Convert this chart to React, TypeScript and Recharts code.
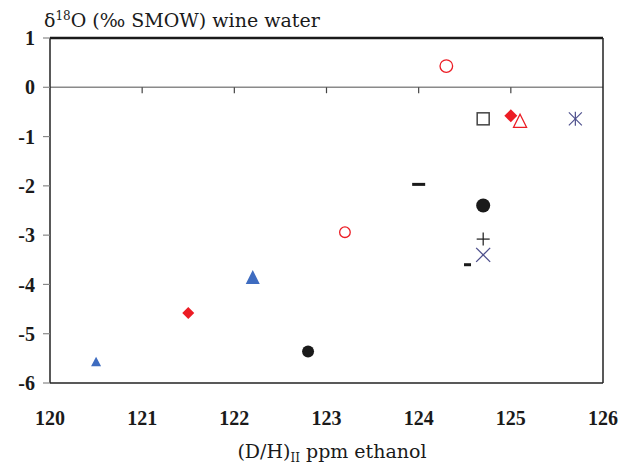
import { ReferenceLine, Scatter, ScatterChart, XAxis, YAxis } from 'recharts'

const markerKinds = [
  'smallTriangle', 'diamond', 'triangle', 'dot', 'ring', 'dash', 'bigRing', 'square',
  'bigDiamond', 'openTriangle', 'asterisk', 'bigDot', 'plus', 'cross', 'shortDash'
]
const dhEthanol = [120.5, 121.5, 122.2, 122.8, 123.2, 124.0, 124.3, 124.7, 125.0, 125.1, 125.7, 124.7, 124.7, 124.7, 124.53]
const d18OWater = [-5.57, -4.58, -3.85, -5.36, -2.94, -1.97, 0.43, -0.64, -0.58, -0.68, -0.64, -2.4, -3.08, -3.4, -3.6]

const xTicks = [120, 121, 122, 123, 124, 125, 126]
const yTicks = [-6, -5, -4, -3, -2, -1, 0, 1]
const zeroLineTicks = [121, 122, 123, 124, 125]

const RED = '#ec1c24'
const BLUE = '#3e6cc0'
const SLATE = '#4d4f8c'
const FONT = 'Liberation Serif, DejaVu Serif, serif'
const TITLE_FONT = 'DejaVu Serif, Liberation Serif, serif'

const points = markerKinds.map((kind, i) => ({ kind, x: dhEthanol[i], y: d18OWater[i] }))

function Marker(props: any) {
  const { cx, cy, payload } = props
  if (cx == null || cy == null) return null
  switch (payload.kind) {
    case 'smallTriangle':
      return <polygon points={`${cx},${cy - 5} ${cx + 5},${cy + 4.5} ${cx - 5},${cy + 4.5}`} fill={BLUE} />
    case 'triangle':
      return <polygon points={`${cx},${cy - 7} ${cx + 7},${cy + 7} ${cx - 7},${cy + 7}`} fill={BLUE} />
    case 'diamond':
      return <polygon points={`${cx},${cy - 6} ${cx + 6},${cy} ${cx},${cy + 6} ${cx - 6},${cy}`} fill={RED} />
    case 'bigDiamond':
      return <polygon points={`${cx},${cy - 6.5} ${cx + 6.5},${cy} ${cx},${cy + 6.5} ${cx - 6.5},${cy}`} fill={RED} />
    case 'dot':
      return <circle cx={cx} cy={cy} r={6} fill="#1a1a1a" />
    case 'bigDot':
      return <circle cx={cx} cy={cy} r={7} fill="#1a1a1a" />
    case 'ring':
      return <circle cx={cx} cy={cy} r={5.3} fill="none" stroke={RED} strokeWidth={1.3} />
    case 'bigRing':
      return <circle cx={cx} cy={cy} r={6.3} fill="none" stroke={RED} strokeWidth={1.3} />
    case 'dash':
      return <rect x={cx - 6.5} y={cy - 1.5} width={13} height={3} fill="#1a1a1a" />
    case 'shortDash':
      return <rect x={cx - 3.5} y={cy - 1.5} width={7} height={3} fill="#1a1a1a" />
    case 'square':
      return <rect x={cx - 6} y={cy - 6} width={12} height={12} fill="none" stroke="#444" strokeWidth={1.5} />
    case 'openTriangle':
      return (
        <polygon
          points={`${cx},${cy - 6.5} ${cx + 6.5},${cy + 6.5} ${cx - 6.5},${cy + 6.5}`}
          fill="none"
          stroke={RED}
          strokeWidth={1.3}
        />
      )
    case 'asterisk':
      return (
        <g stroke={SLATE} strokeWidth={1.2}>
          <line x1={cx} y1={cy - 7} x2={cx} y2={cy + 7} />
          <line x1={cx - 6.5} y1={cy - 6.5} x2={cx + 6.5} y2={cy + 6.5} />
          <line x1={cx - 6.5} y1={cy + 6.5} x2={cx + 6.5} y2={cy - 6.5} />
        </g>
      )
    case 'plus':
      return (
        <g stroke="#1a1a1a" strokeWidth={1.2}>
          <line x1={cx - 6.5} y1={cy} x2={cx + 6.5} y2={cy} />
          <line x1={cx} y1={cy - 6.5} x2={cx} y2={cy + 6.5} />
        </g>
      )
    case 'cross':
      return (
        <g stroke={SLATE} strokeWidth={1.3}>
          <line x1={cx - 7} y1={cy - 7} x2={cx + 7} y2={cy + 7} />
          <line x1={cx - 7} y1={cy + 7} x2={cx + 7} y2={cy - 7} />
        </g>
      )
    default:
      return null
  }
}

function XTitle() {
  return (
    <text x={324} y={450} textAnchor="middle" style={{ fontFamily: TITLE_FONT }} fontSize={19} fill="#1a1a1a">
      (D/H)
      <tspan fontSize={12} dy={4}>II</tspan>
      <tspan dy={-4}> ppm ethanol</tspan>
    </text>
  )
}

function YTitle() {
  return (
    <text x={36} y={19} style={{ fontFamily: TITLE_FONT }} fontSize={19} fill="#1a1a1a">
      δ
      <tspan fontSize={12} dy={-7}>18</tspan>
      <tspan dy={7}>O (‰ SMOW) wine water</tspan>
    </text>
  )
}

export default function App() {
  return (
    <ScatterChart
      width={621}
      height={459}
      margin={{ top: 30, right: 26, bottom: 0, left: 0 }}
      style={{ fontFamily: FONT }}
    >
      <XAxis
        type="number"
        dataKey="x"
        domain={[120, 126]}
        ticks={xTicks}
        tickSize={0}
        tickMargin={28}
        axisLine={{ stroke: '#222', strokeWidth: 1.5 }}
        tick={{ fill: '#1a1a1a', fontSize: 20, fontWeight: 'bold', style: { fontFamily: FONT } }}
        height={84}
        label={<XTitle />}
      />
      <YAxis
        type="number"
        dataKey="y"
        domain={[-6, 1]}
        ticks={yTicks}
        width={42}
        tickSize={7}
        tickMargin={8}
        axisLine={{ stroke: '#222', strokeWidth: 1.5 }}
        tickLine={{ stroke: '#888', strokeWidth: 1.2 }}
        tick={{ fill: '#1a1a1a', fontSize: 20, fontWeight: 'bold', style: { fontFamily: FONT } }}
        label={<YTitle />}
      />
      <ReferenceLine y={0} stroke="#8a8a8a" strokeWidth={1.5} />
      {zeroLineTicks.map((t) => (
        <ReferenceLine
          key={t}
          segment={[{ x: t, y: 0 }, { x: t, y: -0.12 }]}
          stroke="#444"
          strokeWidth={1.2}
        />
      ))}
      <ReferenceLine y={1} stroke="#1a1a1a" strokeWidth={2.5} />
      <ReferenceLine x={126} stroke="#222" strokeWidth={1.5} />
      <Scatter data={points} shape={<Marker />} isAnimationActive={false} />
    </ScatterChart>
  )
}
